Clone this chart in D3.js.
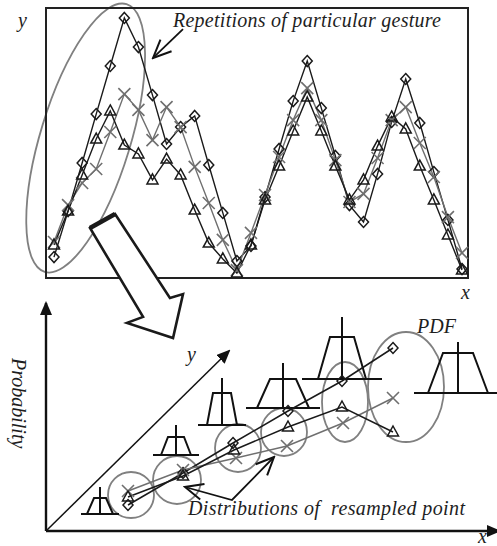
<!DOCTYPE html>
<html>
<head>
<meta charset="utf-8">
<script src="https://cdn.jsdelivr.net/npm/d3@7"></script>
<style>
  html, body { margin: 0; padding: 0; background: #fff; }
</style>
</head>
<body>
<div id="chart"></div>
<script>
const w = 497, h = 546;
const serif = "'Liberation Serif', 'DejaVu Serif', serif";

// top panel : repetitions of one gesture (sample index -> height)
const sampleIdx = d3.range(30);
const diamondRep = [6.5, 24.2, 42.7, 61.5, 80, 98.5, 87.3, 68.8, 50, 56.5, 60.8, 41.9, 23.5, 5, 10.8,
  29.6, 48.1, 66.5, 81.9, 63.8, 45.4, 26.5, 20, 38.5, 58.5, 75, 58.1, 39.2, 20.8, 1.9];
const triangleRep = [11.2, 24.2, 38.1, 51.9, 62.7, 49.6, 46.2, 36.2, 44.2, 38.1, 24.6, 11.9, 5.8, 0.4, 11.2,
  28.5, 41.5, 55, 68.1, 55, 41.5, 28.5, 36.2, 49.2, 60.4, 55.8, 41.5, 28.5, 15, 1.5];
const crossRep = [12.3, 26.5, 35, 40.4, 54.6, 69.2, 63.1, 51.5, 64.2, 56.5, 41.2, 27.3, 13.1, 1.5, 15.8,
  30.4, 45, 59.2, 71.5, 59.2, 43.8, 27.7, 30.8, 44.6, 59.2, 64.2, 50.4, 37.3, 21.9, 8.1];

// bottom panel : resampled points (u along x, v along y of the diagram)
const diamondU = [82, 137, 187, 242, 296, 347];
const diamondV = [26, 58, 88, 120, 150, 183];
const triangleU = [82, 137, 188, 242, 296, 347];
const triangleV = [34, 55, 81, 104, 124, 99];
const crossU = [82, 137, 190, 241, 297, 347];
const crossV = [40, 61, 73, 85, 108, 133];

// distributions round each resampled point
const distU = [85, 131, 192, 238, 299, 360];
const distV = [36, 51, 83, 99, 129, 144];
const distRx = [23, 24, 23, 23, 23, 38];
const distRy = [23, 24, 24, 24, 40, 55];

// PDF glyphs
const pdfU = [54, 130, 176, 237, 296, 412];
const pdfV = [17, 76, 106, 123, 152, 138];
const pdfStem = [27, 30, 47, 45, 62, 51];
const pdfTrap = [16, 18, 32, 29, 42, 40];
const pdfTopHalf = [6, 8, 9, 13, 12, 15];
const pdfBotHalf = [13, 15, 15, 26, 24, 30];
const pdfLineHalf = [19, 23, 24, 37, 40, 44];

const svg = d3.select('#chart')
  .append('svg')
  .attr('width', w)
  .attr('height', h)
  .style('display', 'block');

svg.append('rect').attr('width', w).attr('height', h).attr('fill', '#fff');

const defs = svg.append('defs');
defs.append('marker')
  .attr('id', 'solidHead')
  .attr('markerUnits', 'userSpaceOnUse')
  .attr('viewBox', '0 -6 14 12')
  .attr('refX', 12).attr('refY', 0)
  .attr('markerWidth', 14).attr('markerHeight', 12)
  .attr('orient', 'auto')
  .append('path').attr('d', 'M0,-6L14,0L0,6Z').attr('fill', '#111');
defs.append('marker')
  .attr('id', 'openHead')
  .attr('markerUnits', 'userSpaceOnUse')
  .attr('viewBox', '-20 -10 22 20')
  .attr('refX', 0).attr('refY', 0)
  .attr('markerWidth', 22).attr('markerHeight', 20)
  .attr('orient', 'auto-start-reverse')
  .append('path').attr('d', 'M-18,-8L0,0L-18,8').attr('fill', 'none')
  .attr('stroke', '#111').attr('stroke-width', 2);

function label(g, tx, ty, str, size) {
  return g.append('text')
    .attr('x', tx).attr('y', ty)
    .attr('font-family', serif)
    .attr('font-style', 'italic')
    .attr('font-size', size)
    .attr('fill', '#1e1e1e')
    .text(str);
}

// ---------- top panel ----------
const x = d3.scaleLinear().domain([0, 29]).range([54, 462]);
const y = d3.scaleLinear().domain([0, 100]).range([274, 14]);

const topG = svg.append('g');

// the circled first stroke
topG.append('ellipse')
  .attr('transform', 'translate(' + x(2.25) + ',' + y(52.3) + ') rotate(-73)')
  .attr('rx', 140).attr('ry', 45)
  .attr('fill', 'none').attr('stroke', '#808080').attr('stroke-width', 1.8);

topG.append('rect')
  .attr('x', 46).attr('y', 8)
  .attr('width', 422).attr('height', 270)
  .attr('fill', 'none').attr('stroke', '#222').attr('stroke-width', 2);

const reps = [
  { vals: diamondRep, kind: 'diamond', color: '#1a1a1a' },
  { vals: crossRep, kind: 'cross', color: '#6f6f6f' },
  { vals: triangleRep, kind: 'triangle', color: '#1a1a1a' }
];

const lineTop = d3.line().x((d, i) => x(sampleIdx[i])).y(d => y(d));

reps.forEach(r => {
  topG.append('path')
    .attr('d', lineTop(r.vals))
    .attr('fill', 'none')
    .attr('stroke', r.color)
    .attr('stroke-width', 1.4);
});

const symbolPath = {
  diamond: 'M0,-5.5L5,0L0,5.5L-5,0Z',
  triangle: 'M0,-6L5.5,4L-5.5,4Z',
  cross: 'M-6,-6L6,6M-6,6L6,-6'
};

function drawMarks(g, xs, ys, kind, color) {
  g.selectAll('.m-' + kind)
    .data(xs)
    .enter()
    .append('path')
    .attr('class', 'm-' + kind)
    .attr('transform', (d, i) => 'translate(' + d + ',' + ys[i] + ')')
    .attr('d', symbolPath[kind])
    .attr('fill', 'none')
    .attr('stroke', color)
    .attr('stroke-width', kind === 'cross' ? 1.6 : 1.5);
}

reps.forEach(r => {
  drawMarks(topG, r.vals.map((d, i) => x(sampleIdx[i])), r.vals.map(d => y(d)), r.kind, r.color);
});

label(topG, 18, 27, 'y', 20);
label(topG, 461, 299, 'x', 20);
label(topG, 173, 27, 'Repetitions of particular gesture', 20)
  .attr('textLength', 268).attr('lengthAdjust', 'spacing');

topG.append('line')
  .attr('x1', x(9.17)).attr('y1', y(94.2))
  .attr('x2', x(7.04)).attr('y2', y(83.1))
  .attr('stroke', '#111').attr('stroke-width', 1.8)
  .attr('marker-end', 'url(#openHead)');

// the big hollow arrow between the panels
const hollow = [[2.56, 17.7], [4.34, 23.1], [8.24, -9.2], [9.17, -7.7], [8.46, -24.6], [5.19, -18.8], [6.33, -16.5]];
topG.append('path')
  .attr('d', d3.line().x(d => x(d[0])).y(d => y(d[1]))(hollow) + 'Z')
  .attr('fill', '#fff').attr('stroke', '#1a1a1a').attr('stroke-width', 2.6)
  .attr('stroke-linejoin', 'miter');
topG.append('line')
  .attr('x1', x(hollow[0][0])).attr('y1', y(hollow[0][1]))
  .attr('x2', x(hollow[1][0])).attr('y2', y(hollow[1][1]))
  .attr('stroke', '#1a1a1a').attr('stroke-width', 4.5);

// ---------- bottom panel ----------
const bx = d3.scaleLinear().domain([0, 451]).range([46, 497]);
const by = d3.scaleLinear().domain([0, 228]).range([531, 303]);

const botG = svg.append('g');

botG.append('line')
  .attr('x1', bx(0)).attr('y1', by(0)).attr('x2', bx(0)).attr('y2', by(228))
  .attr('stroke', '#111').attr('stroke-width', 2.4).attr('marker-end', 'url(#solidHead)');
botG.append('line')
  .attr('x1', bx(0)).attr('y1', by(0)).attr('x2', bx(453)).attr('y2', by(0))
  .attr('stroke', '#111').attr('stroke-width', 2.4).attr('marker-end', 'url(#solidHead)');
botG.append('line')
  .attr('x1', bx(0)).attr('y1', by(0)).attr('x2', bx(183)).attr('y2', by(180))
  .attr('stroke', '#111').attr('stroke-width', 1.5).attr('marker-end', 'url(#solidHead)');

botG.selectAll('.dist')
  .data(distU)
  .enter()
  .append('ellipse')
  .attr('class', 'dist')
  .attr('cx', d => bx(d))
  .attr('cy', (d, i) => by(distV[i]))
  .attr('rx', (d, i) => distRx[i])
  .attr('ry', (d, i) => distRy[i])
  .attr('fill', 'none').attr('stroke', '#808080').attr('stroke-width', 1.8);

// PDF glyphs
const glyph = botG.selectAll('.pdf')
  .data(pdfU)
  .enter()
  .append('g')
  .attr('class', 'pdf')
  .attr('transform', (d, i) => 'translate(' + bx(d) + ',' + by(pdfV[i]) + ')');
glyph.append('line')
  .attr('x1', (d, i) => -pdfLineHalf[i]).attr('x2', (d, i) => pdfLineHalf[i])
  .attr('y1', 0).attr('y2', 0)
  .attr('stroke', '#111').attr('stroke-width', 2);
glyph.append('line')
  .attr('x1', 0).attr('x2', 0).attr('y1', 0).attr('y2', (d, i) => -pdfStem[i])
  .attr('stroke', '#111').attr('stroke-width', 2);
glyph.append('path')
  .attr('d', (d, i) => 'M' + (-pdfBotHalf[i]) + ',0L' + (-pdfTopHalf[i]) + ',' + (-pdfTrap[i]) +
    'L' + pdfTopHalf[i] + ',' + (-pdfTrap[i]) + 'L' + pdfBotHalf[i] + ',0')
  .attr('fill', 'none').attr('stroke', '#111').attr('stroke-width', 2);

const sets = [
  { u: diamondU, v: diamondV, kind: 'diamond', color: '#1a1a1a' },
  { u: crossU, v: crossV, kind: 'cross', color: '#6f6f6f' },
  { u: triangleU, v: triangleV, kind: 'triangle', color: '#1a1a1a' }
];
sets.forEach(s => {
  botG.append('path')
    .attr('d', d3.line().x(d => bx(d)).y((d, i) => by(s.v[i]))(s.u))
    .attr('fill', 'none').attr('stroke', s.color).attr('stroke-width', 1.5);
});
sets.forEach(s => {
  drawMarks(botG, s.u.map(d => bx(d)), s.v.map(d => by(d)), s.kind, s.color);
});

// pointer from the caption to two distributions
const pointer = [[139, 44], [186, 31], [228, 74]];
botG.append('path')
  .attr('d', d3.line().x(d => bx(d[0])).y(d => by(d[1]))(pointer))
  .attr('fill', 'none').attr('stroke', '#111').attr('stroke-width', 1.8)
  .attr('marker-start', 'url(#openHead)').attr('marker-end', 'url(#openHead)');

label(botG, bx(142), by(16), 'Distributions of  resampled point', 20)
  .attr('xml:space', 'preserve')
  .attr('textLength', 277).attr('lengthAdjust', 'spacing');
label(botG, bx(371), by(198), 'PDF', 20);
label(botG, bx(141), by(170), 'y', 20);
label(botG, bx(432), by(-12), 'x', 20);
label(botG, 0, 0, 'Probability', 20)
  .attr('transform', 'translate(' + 12 + ',' + by(173) + ') rotate(90)');
</script>
</body>
</html>
